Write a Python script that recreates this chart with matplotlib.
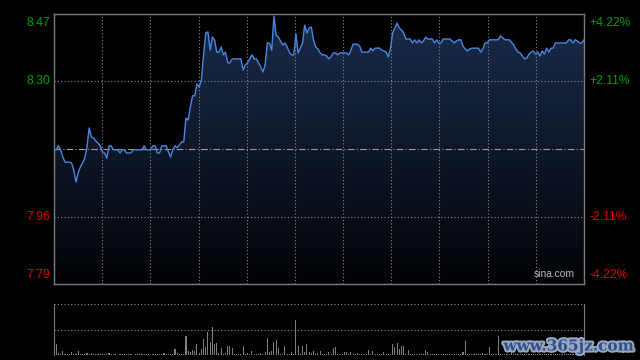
import numpy as np
import matplotlib
matplotlib.use("Agg")
import matplotlib.pyplot as plt
import matplotlib.patheffects as pe
from matplotlib.colors import LinearSegmentedColormap

plt.rcParams['font.family'] = ['Liberation Sans', 'DejaVu Sans']

# intraday minute prices (242 points, 9:30-15:00)
prices = [
    8.128, 8.128, 8.138, 8.128, 8.110, 8.097, 8.097, 8.097, 8.095, 8.077,
    8.047, 8.070, 8.085, 8.095, 8.107, 8.135, 8.183, 8.160, 8.158, 8.150,
    8.145, 8.138, 8.123, 8.120, 8.107, 8.138, 8.138, 8.128, 8.128, 8.128,
    8.120, 8.128, 8.128, 8.120, 8.120, 8.120, 8.128, 8.128, 8.128, 8.128,
    8.128, 8.138, 8.128, 8.128, 8.128, 8.138, 8.138, 8.120, 8.120, 8.138,
    8.138, 8.138, 8.123, 8.110, 8.128, 8.138, 8.133, 8.140, 8.148, 8.148,
    8.208, 8.203, 8.236, 8.264, 8.264, 8.294, 8.286, 8.304, 8.367, 8.422,
    8.425, 8.379, 8.412, 8.405, 8.374, 8.374, 8.387, 8.367, 8.374, 8.347,
    8.347, 8.357, 8.357, 8.357, 8.357, 8.357, 8.329, 8.342, 8.347, 8.357,
    8.367, 8.357, 8.357, 8.347, 8.337, 8.324, 8.342, 8.397, 8.397, 8.379,
    8.465, 8.417, 8.412, 8.402, 8.392, 8.397, 8.387, 8.374, 8.367, 8.367,
    8.420, 8.372, 8.384, 8.397, 8.442, 8.422, 8.435, 8.437, 8.405, 8.387,
    8.382, 8.372, 8.367, 8.367, 8.364, 8.357, 8.362, 8.372, 8.372, 8.367,
    8.372, 8.372, 8.372, 8.372, 8.367, 8.379, 8.394, 8.394, 8.394, 8.389,
    8.374, 8.374, 8.374, 8.374, 8.384, 8.377, 8.384, 8.384, 8.384, 8.379,
    8.377, 8.374, 8.362, 8.384, 8.422, 8.435, 8.447, 8.435, 8.430, 8.422,
    8.407, 8.407, 8.407, 8.397, 8.405, 8.397, 8.405, 8.397, 8.402, 8.412,
    8.407, 8.407, 8.407, 8.397, 8.405, 8.397, 8.397, 8.407, 8.407, 8.407,
    8.407, 8.402, 8.397, 8.402, 8.405, 8.405, 8.389, 8.382, 8.377, 8.382,
    8.384, 8.384, 8.384, 8.384, 8.374, 8.382, 8.397, 8.397, 8.405, 8.405,
    8.405, 8.405, 8.405, 8.415, 8.410, 8.405, 8.405, 8.405, 8.399, 8.392,
    8.382, 8.374, 8.372, 8.364, 8.357, 8.359, 8.369, 8.374, 8.377, 8.369,
    8.374, 8.364, 8.377, 8.369, 8.384, 8.374, 8.384, 8.384, 8.397, 8.397,
    8.397, 8.397, 8.397, 8.397, 8.405, 8.405, 8.397, 8.405, 8.402, 8.397,
    8.397, 8.405,
]

# minute volumes (arbitrary units)
volumes = [
    30, 103, 17, 8, 37, 6, 5, 8, 33, 6,
    10, 43, 6, 8, 5, 23, 7, 17, 6, 5,
    8, 6, 5, 7, 6, 23, 8, 5, 6, 4,
    6, 5, 7, 8, 5, 6, 4, 6, 5, 7,
    5, 6, 8, 5, 4, 6, 7, 5, 8, 6,
    23, 6, 8, 5, 10, 63, 23, 7, 10, 8,
    183, 43, 27, 53, 37, 103, 15, 60, 160, 77,
    227, 127, 277, 103, 117, 15, 67, 8, 15, 93,
    93, 67, 10, 8, 6, 7, 93, 8, 23, 6,
    43, 8, 6, 5, 15, 7, 27, 167, 33, 43,
    127, 143, 67, 8, 6, 93, 7, 5, 27, 8,
    343, 93, 6, 93, 27, 103, 33, 20, 43, 6,
    15, 37, 6, 5, 8, 27, 6, 67, 83, 7,
    6, 5, 33, 33, 8, 27, 6, 10, 17, 5,
    6, 8, 5, 50, 7, 43, 6, 5, 8, 6,
    33, 7, 5, 8, 103, 83, 117, 60, 93, 93,
    8, 50, 6, 5, 10, 7, 5, 6, 8, 50,
    27, 6, 5, 7, 10, 5, 6, 8, 10, 5,
    6, 7, 5, 8, 6, 5, 27, 133, 6, 5,
    7, 6, 5, 8, 6, 17, 5, 6, 77, 7,
    10, 6, 183, 5, 7, 10, 6, 5, 33, 6,
    5, 8, 6, 10, 5, 7, 12, 6, 8, 5,
    10, 6, 8, 5, 12, 6, 7, 5, 9, 6,
    8, 5, 6, 10, 7, 5, 8, 6, 5, 7,
    6, 8,
]

pre_close = 8.13
price_ticks = [7.79, 7.96, 8.13, 8.30, 8.47]
price_labels = ['7.79', '7.96', '', '8.30', '8.47']
pct_labels = ['-4.22%', '-2.11%', '', '+2.11%', '+4.22%']

GREEN = '#00a000'
RED = '#dd0000'
GRID = '#8a8a8a'
SPINE = '#7a7a7a'

minutes = np.arange(len(prices))
n_last = len(prices) - 1

fig = plt.figure(figsize=(6.4, 3.6), dpi=100, facecolor='black')
ax = fig.add_axes([54 / 640, 1 - 284 / 360, 530 / 640, 270 / 360], facecolor='black')
vax = fig.add_axes([54 / 640, 1 - 355 / 360, 530 / 640, 51 / 360], facecolor='black')

ymin, ymax = price_ticks[0], price_ticks[-1]
ax.set_xlim(0, n_last)
ax.set_ylim(ymin, ymax)

# gradient area under the price line
cmap = LinearSegmentedColormap.from_list('area', ['#020306', '#1a2c4c'])
grad = np.linspace(0, 1, 256).reshape(-1, 1)
poly = ax.fill_between(minutes, prices, ymin, color='none', lw=0)
img = ax.imshow(grad, cmap=cmap, extent=[0, n_last, ymin, ymax], origin='lower',
                aspect='auto', zorder=1)
img.set_clip_path(poly.get_paths()[0], transform=ax.transData)

# grid
vlines = np.linspace(0, n_last, 12)[1:-1]
for xv in vlines:
    ax.axvline(xv, color=GRID, lw=0.8, ls=(0, (1, 2)), zorder=2)
for yv in price_ticks[1:-1]:
    if yv == pre_close:
        ax.axhline(yv, color='#9a9a9a', lw=0.8, ls=(0, (6, 2, 1, 2)), zorder=2)
    else:
        ax.axhline(yv, color=GRID, lw=0.8, ls=(0, (1, 2)), zorder=2)

ax.plot(minutes, prices, color='#4a86e0', lw=1.0, zorder=3)

for s in ax.spines.values():
    s.set_color(SPINE)
    s.set_linewidth(1.0)
ax.set_xticks([])
ax.set_yticks([])

# price / percent labels
for yv, lab, pct in zip(price_ticks, price_labels, pct_labels):
    if not lab:
        continue
    col = GREEN if yv > pre_close else RED
    va = 'top' if yv == ymax else ('bottom' if yv == ymin else 'center')
    off = -2.5 if yv == ymax else (2.5 if yv == ymin else 0)
    ax.annotate(lab, (0, yv), xycoords=('axes fraction', 'data'),
                xytext=(-2.5, off), textcoords='offset points',
                ha='right', va=va, color=col, fontsize=8.7)
    ax.annotate(pct, (1, yv), xycoords=('axes fraction', 'data'),
                xytext=(4, off), textcoords='offset points',
                ha='left', va=va, color=col, fontsize=8.7)

ax.text(0.982, 0.02, 'sina.com', transform=ax.transAxes, ha='right', va='bottom',
        color='#b8b8b8', fontsize=7.4, zorder=4)

# volume panel
vmax = 500
vax.bar(minutes, volumes, width=0.5, color='#808080', lw=0)
vax.set_xlim(0, n_last)
vax.set_ylim(0, vmax)
vax.axhline(vmax / 2, color=GRID, lw=0.8, ls=(0, (1, 2)))
vax.axhline(vmax, color=GRID, lw=0.8, ls=(0, (1, 2)))
for k in ['top', 'bottom']:
    vax.spines[k].set_visible(False)
for k in ['left', 'right']:
    vax.spines[k].set_color(SPINE)
vax.set_xticks([])
vax.set_yticks([])

# site watermark
fig.text(0.99, 0.018, 'www.365jz.com', ha='right', va='bottom', fontsize=11,
         fontweight='bold', family='DejaVu Serif', color='#2d4f8e',
         path_effects=[pe.withStroke(linewidth=3, foreground='#9aa8bc')])

fig.savefig('out.png', dpi=100, facecolor='black')
